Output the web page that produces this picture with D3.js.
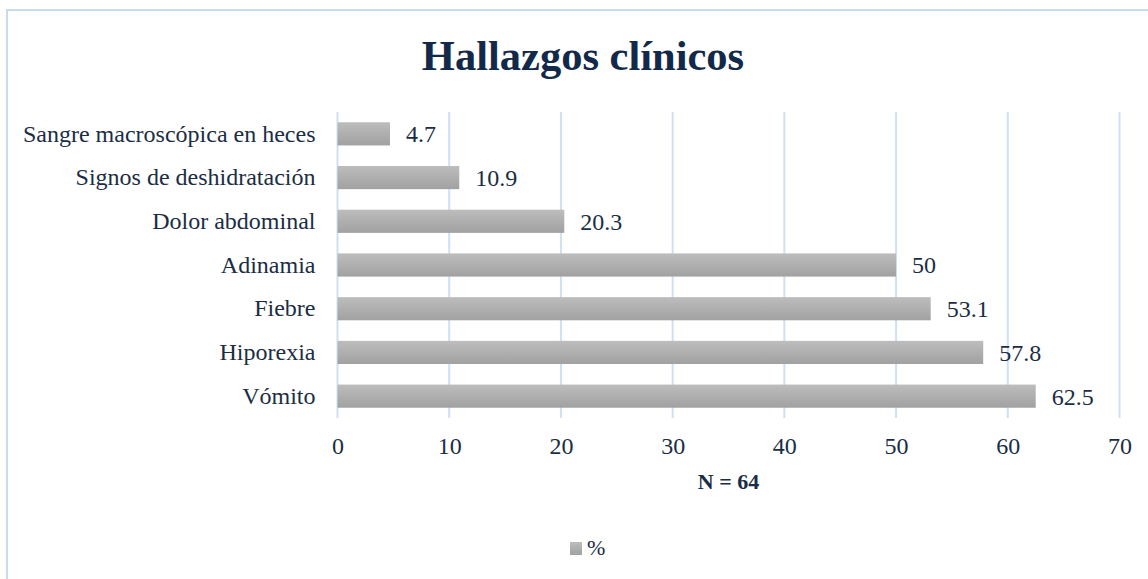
<!DOCTYPE html>
<html lang="es">
<head>
  <meta charset="UTF-8" />
  <title>Hallazgos clínicos</title>
  <script src="https://d3js.org/d3.v7.min.js"></script>
  <style>
    body { margin: 0; background: #fff; }
    text { font-family: "Liberation Serif", "Times New Roman", serif; fill: #1b2d44; }
  </style>
</head>
<body>
  <svg id="chart" width="1148" height="579"></svg>
  <script>
    const categories = [
      "Sangre macroscópica en heces",
      "Signos de deshidratación",
      "Dolor abdominal",
      "Adinamia",
      "Fiebre",
      "Hiporexia",
      "Vómito"
    ];
    const values = [4.7, 10.9, 20.3, 50, 53.1, 57.8, 62.5];
    const xTicks = [0, 10, 20, 30, 40, 50, 60, 70];

    const svg = d3.select("#chart");
    const margin = { left: 337.5, right: 1119.5, top: 112, bottom: 418 };

    // chart border
    svg.append("rect")
      .attr("x", 7).attr("y", 10)
      .attr("width", 1150).attr("height", 580)
      .attr("fill", "none")
      .attr("stroke", "#c8dcf0")
      .attr("stroke-width", 2);

    const defs = svg.append("defs");
    const grad = defs.append("linearGradient")
      .attr("id", "barGrad")
      .attr("x1", 0).attr("y1", 0).attr("x2", 0).attr("y2", 1);
    grad.append("stop").attr("offset", "0%").attr("stop-color", "#bdbdbd");
    grad.append("stop").attr("offset", "100%").attr("stop-color", "#a1a1a1");

    const x = d3.scaleLinear().domain([0, 70]).range([margin.left, margin.right]);
    const y = d3.scaleBand()
      .domain(categories)
      .range([margin.top, margin.bottom])
      .paddingInner(0.47)
      .paddingOuter(0.235);

    // gridlines
    svg.append("g")
      .selectAll("line")
      .data(xTicks)
      .join("line")
      .attr("x1", d => x(d)).attr("x2", d => x(d))
      .attr("y1", margin.top).attr("y2", margin.bottom)
      .attr("stroke", "#cfe0f3")
      .attr("stroke-width", 2);

    // bars
    svg.append("g")
      .selectAll("rect")
      .data(values)
      .join("rect")
      .attr("x", x(0))
      .attr("y", (d, i) => y(categories[i]))
      .attr("width", d => x(d) - x(0))
      .attr("height", y.bandwidth())
      .attr("fill", "url(#barGrad)");

    // value labels
    svg.append("g")
      .selectAll("text")
      .data(values)
      .join("text")
      .attr("x", d => x(d) + 16)
      .attr("y", (d, i) => y(categories[i]) + y.bandwidth() / 2)
      .attr("dy", "0.35em")
      .style("font-size", "24px")
      .text(d => d);

    // category axis
    const yAxis = svg.append("g")
      .attr("transform", `translate(${margin.left},0)`)
      .call(d3.axisLeft(y).tickSize(0).tickPadding(22));
    yAxis.select(".domain").remove();
    yAxis.selectAll("text")
      .style("font-size", "24px")
      .style("font-family", "Liberation Serif, serif")
      .attr("fill", "#1b2d44");

    // value axis
    const xAxis = svg.append("g")
      .attr("transform", `translate(0,${margin.bottom})`)
      .call(d3.axisBottom(x).tickValues(xTicks).tickSize(0).tickPadding(19));
    xAxis.select(".domain").remove();
    xAxis.selectAll("text")
      .style("font-size", "24px")
      .style("font-family", "Liberation Serif, serif")
      .attr("fill", "#1b2d44");

    // title
    svg.append("text")
      .attr("x", 583).attr("y", 70)
      .attr("text-anchor", "middle")
      .style("font-size", "42.5px")
      .style("font-weight", "bold")
      .style("fill", "#13294a")
      .text("Hallazgos clínicos");

    // axis title
    svg.append("text")
      .attr("x", (margin.left + margin.right) / 2).attr("y", 489)
      .attr("text-anchor", "middle")
      .style("font-size", "22px")
      .style("font-weight", "bold")
      .text("N = 64");

    // legend
    const legend = svg.append("g").attr("transform", "translate(570,542)");
    legend.append("rect")
      .attr("width", 12).attr("height", 13)
      .attr("fill", "url(#barGrad)");
    legend.append("text")
      .attr("x", 17).attr("y", 13)
      .style("font-size", "22px")
      .text("%");
  </script>
</body>
</html>
